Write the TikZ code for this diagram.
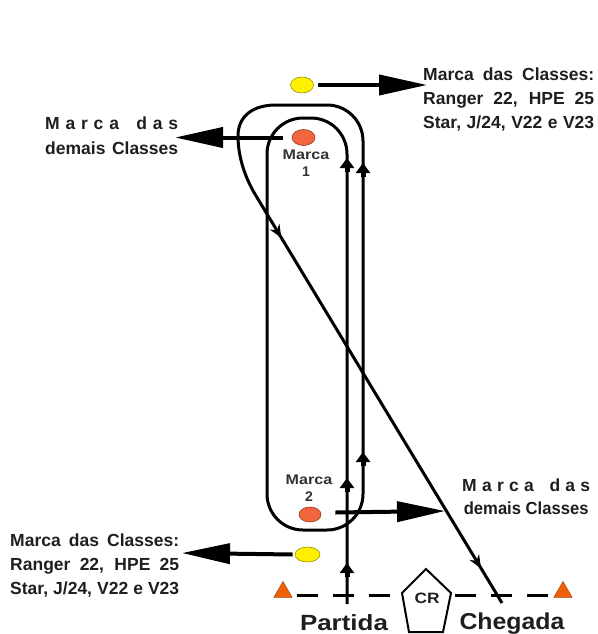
\documentclass[tikz,border=0pt]{standalone}
\usepackage{fontspec}
\setmainfont{Liberation Sans}
\usetikzlibrary{arrows.meta,shapes.geometric,decorations.markings,calc}
\definecolor{markorange}{RGB}{242,102,62}
\definecolor{triorange}{RGB}{238,96,10}
\definecolor{markyellow}{RGB}{255,240,0}
\definecolor{txt}{RGB}{30,30,30}
\definecolor{labgray}{RGB}{50,50,50}
\begin{document}
\begin{tikzpicture}[x=1pt,y=-1pt,
  route/.style={line width=3pt, black, rounded corners=36pt},
  bigarrow/.style={line width=4pt, -{Triangle[length=48pt,width=20pt]}},
  upmark/.style={line width=5pt, -{Triangle[length=10pt,width=14pt]}},
  buoy/.style={ellipse, minimum width=23pt, minimum height=16pt, inner sep=0pt, draw=#1!60!black, line width=0.6pt, fill=#1},
  tri/.style={regular polygon, regular polygon sides=3, minimum size=21pt, inner sep=0pt, fill=triorange, draw=triorange!70!black, line width=0.5pt},
  block/.style={font=\bfseries\fontsize{17.5}{24}\selectfont, text=txt, inner sep=0pt, align=left, anchor=west},
  small/.style={font=\bfseries\fontsize{14}{17}\selectfont, text=labgray, inner sep=0pt, align=center},
  dashline/.style={line width=3pt, dash pattern=on 21pt off 15pt},
]
\useasboundingbox (0,0) rectangle (597,634);

% texts
\node[block] (tr) at (423,99.5) {\makebox[171pt][s]{Marca das Classes:}\\\makebox[171pt][s]{Ranger 22, HPE 25}\\\makebox[171pt][s]{Star, J/24, V22 e V23}};
\node[block] (bl) at (10,566) {\makebox[169pt][s]{Marca das Classes:}\\\makebox[169pt][s]{Ranger 22, HPE 25}\\\makebox[169pt][s]{Star, J/24, V22 e V23}};
\node[block,font=\bfseries\fontsize{17.5}{25}\selectfont] (ml) at (45,135.5) {\makebox[133pt][s]{M\hfill a\hfill r\hfill c\hfill a\hfill\hfill\hfill d\hfill a\hfill s}\\\makebox[133pt][s]{demais Classes}};
\node[block,font=\bfseries\fontsize{17.5}{23}\selectfont] (mr) at (462,496.5) {\makebox[128pt][s]{M\hfill a\hfill r\hfill c\hfill a\hfill\hfill\hfill d\hfill a\hfill s}\\\makebox[128pt]{\scalebox{0.95}[1]{demais Classes}}};
\node[inner sep=0pt, font=\bfseries\fontsize{22}{22}\selectfont, text=txt] (partida) at (344,623) {\scalebox{1.18}[1]{Partida}};
\node[inner sep=0pt, font=\bfseries\fontsize{23}{23}\selectfont, text=txt] (chegada) at (512,624) {\scalebox{1.08}[1]{Chegada}};
\node[small] (l1) at (306,163) {\scalebox{1.15}[1]{Marca}\\1};
\node[small] (l2) at (309,488) {\scalebox{1.15}[1]{Marca}\\2};

% buoys
\node[buoy=markyellow] (y1) at (302,85) {};
\node[buoy=markorange] (m1) at (303.5,137.5) {};
\node[buoy=markorange, minimum width=22pt, minimum height=15pt] (m2) at (310,514.5) {};
\node[buoy=markyellow, minimum width=25pt, minimum height=15pt] (y2) at (307.5,554.5) {};
\node[tri] (t1) at (283,592) {};
\node[tri] (t2) at (563,592) {};

% committee boat
\node[inner sep=0pt, font=\bfseries\fontsize{15}{15}\selectfont, text=txt] (cr) at (427,598) {\scalebox{1.15}[1]{CR}};
\coordinate (p1) at (426,569);
\coordinate (p2) at (451,593);
\coordinate (p3) at (443,632);
\coordinate (p4) at (409,632);
\coordinate (p5) at (402,593);
\draw[line width=2pt, line join=miter] (p1) -- (p2) -- (p3) -- (p4) -- (p5) -- cycle;

% route
\coordinate (start) at (347,604);
\coordinate (d1) at (255.5,195);
\coordinate (finish) at (502,603);
\draw[route] (start) -- (347,118) -- (267,118) -- (267,530) -- (363,530) -- (363,105) -- (276,105);
\draw[line width=3pt] (276,105) .. controls (253,105) and (238,116) .. (238,136)
  .. controls (238,157) and (245.2,177.9) .. (d1);
\draw[line width=3pt, postaction={decorate}, decoration={markings,
   mark=at position 0.105 with {\arrow{Stealth[length=13pt,width=11pt]}},
   mark=at position 0.915 with {\arrow{Stealth[length=13pt,width=11pt]}}}] (d1) -- (finish);

% small arrows on the route
\draw[upmark] (347,172) -- (347,158);
\draw[upmark] (347,492) -- (347,478);
\draw[upmark] (347,577) -- (347,563);
\draw[upmark] (363,177) -- (363,163);
\draw[upmark] (363,466) -- (363,452);

% start / finish line
\coordinate (s1) at (297,595);
\coordinate (s2) at (400,595);
\coordinate (f1) at (455,595);
\coordinate (f2) at (552,595);
\draw[dashline] (s1) -- (s2);
\draw[dashline] (f1) -- (f2);

% mark arrows
\coordinate (a1) at (427,85);
\coordinate (a2) at (175,137.5);
\coordinate (a3) at (445,511);
\coordinate (a4) at (182,553);
\draw[bigarrow] ([xshift=4pt]y1.east) -- (a1);
\draw[bigarrow] ([xshift=-9pt]m1.west) -- (a2);
\draw[bigarrow] ([xshift=14pt,yshift=2pt]m2.east) -- (a3);
\draw[bigarrow] ([xshift=-2pt]y2.west) -- (a4);
\end{tikzpicture}
\end{document}
